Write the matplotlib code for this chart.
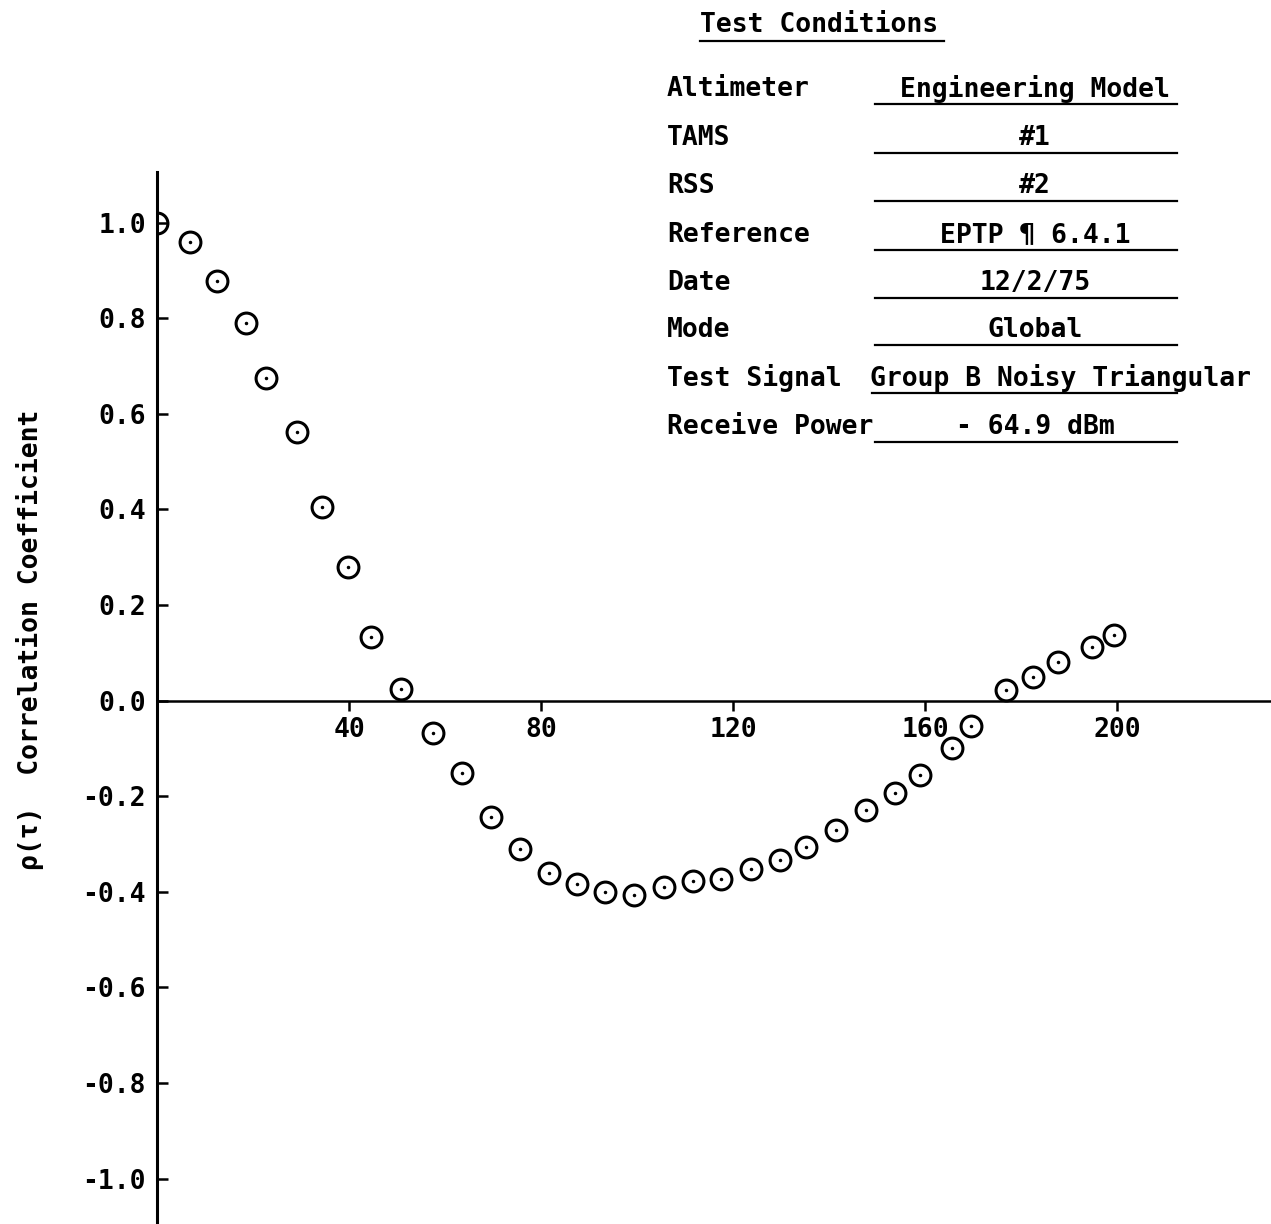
import matplotlib
matplotlib.use("Agg")
import matplotlib.pyplot as plt

plt.rcParams['font.family'] = ['DejaVu Sans Mono', 'DejaVu Sans']
plt.rcParams['font.weight'] = 'bold'

# lag (x) and correlation coefficient
lag = [0, 6.9, 12.4, 18.5, 22.8, 29.1, 34.4, 39.8, 44.6, 50.8,
       57.4, 63.6, 69.6, 75.5, 81.7, 87.5, 93.4, 99.3, 105.5, 111.6,
       117.4, 123.8, 129.7, 135.2, 141.4, 147.6, 153.6, 158.8, 165.5, 169.5,
       176.8, 182.4, 187.6, 194.8, 199.4]
rho = [1.0, 0.960, 0.878, 0.791, 0.676, 0.562, 0.405, 0.279, 0.133, 0.025,
       -0.068, -0.152, -0.243, -0.311, -0.361, -0.383, -0.400, -0.406, -0.390, -0.378,
       -0.373, -0.352, -0.333, -0.307, -0.271, -0.228, -0.193, -0.156, -0.099, -0.053,
       0.023, 0.050, 0.080, 0.112, 0.137]

x_ticks = [40, 80, 120, 160, 200]
y_ticks = [1.0, 0.8, 0.6, 0.4, 0.2, 0.0, -0.2, -0.4, -0.6, -0.8, -1.0]

cond_labels = ['Altimeter', 'TAMS', 'RSS', 'Reference', 'Date', 'Mode',
               'Test Signal', 'Receive Power']
cond_values = ['Engineering Model', '#1', '#2', 'EPTP ¶ 6.4.1', '12/2/75', 'Global',
               'Group B Noisy Triangular', '- 64.9 dBm']

W, H = 1271, 1224
fig = plt.figure(figsize=(W / 100, H / 100), dpi=100)
ax = fig.add_axes([157 / W, 0, 1 - 157 / W, (H - 172) / H])

ax.plot(lag, rho, 'o', mfc='none', mec='black', ms=15, mew=2.2)
ax.plot(lag, rho, '.', color='black', ms=3)

ax.set_xlim(0, 232)
ax.set_ylim(-1.095, 1.106)
ax.spines['top'].set_visible(False)
ax.spines['right'].set_visible(False)
ax.spines['bottom'].set_position(('data', 0))
ax.spines['bottom'].set_linewidth(1.8)
ax.spines['left'].set_linewidth(2.2)

ax.set_xticks(x_ticks)
ax.set_xticklabels([str(t) for t in x_ticks])
ax.set_yticks(y_ticks)
ax.set_yticklabels([f'{t:.1f}' for t in y_ticks])
ax.tick_params(axis='x', direction='out', length=7, width=1.8, pad=5, labelsize=19)
ax.tick_params(axis='y', direction='in', length=8, width=1.8, pad=8, labelsize=19)

fig.text(30 / W, 1 - 640 / H, 'ρ(τ)  Correlation Coefficient', rotation=90,
         ha='center', va='center', fontsize=19)


def fx(x):
    return x / W


def fy(y):
    return 1 - y / H


# test conditions block
fig.text(fx(700), fy(25), 'Test Conditions', ha='left', va='center', fontsize=19)
fig.add_artist(plt.Line2D([fx(700), fx(944)], [fy(41), fy(41)], color='black', lw=1.6))

row_y = [89, 138, 186, 235, 283, 330, 378, 427]
for label, value, y in zip(cond_labels, cond_values, row_y):
    fig.text(fx(667), fy(y), label, ha='left', va='center', fontsize=19)
    if label == 'Test Signal':
        fig.text(fx(870), fy(y), value, ha='left', va='center', fontsize=19)
        x0 = 872
    else:
        fig.text(fx(1035), fy(y), value, ha='center', va='center', fontsize=19)
        x0 = 875
    fig.add_artist(plt.Line2D([fx(x0), fx(1177)], [fy(y + 15), fy(y + 15)],
                              color='black', lw=1.6))

fig.savefig('out.png', dpi=100)
